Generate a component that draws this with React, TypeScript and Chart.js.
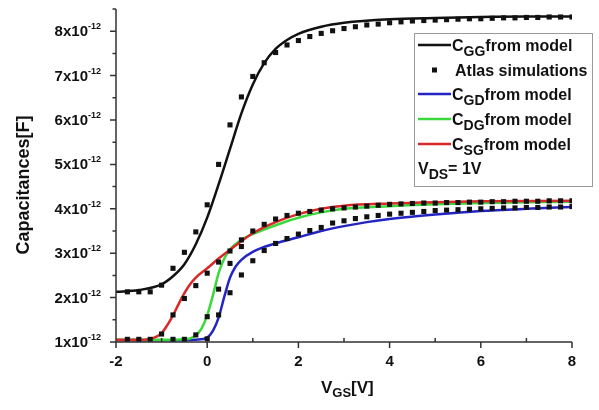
import React, { useEffect, useRef } from 'react';
import { Chart, registerables } from 'chart.js';

Chart.register(...registerables);

// Capacitance values in units of 1e-12 F, V_GS in volts
const cggModelX = [-2, -1.5, -1, -0.75, -0.5, -0.25, 0, 0.25, 0.5, 0.75, 1, 1.25, 1.5, 1.75, 2, 2.5, 3, 4, 5, 6, 7, 8];
const cggModelY = [2.13, 2.17, 2.3, 2.48, 2.75, 3.2, 3.8, 4.55, 5.35, 6.15, 6.8, 7.28, 7.6, 7.8, 7.94, 8.1, 8.19, 8.27, 8.3, 8.32, 8.33, 8.33];

const cgdModelX = [-2, -1, -0.5, -0.25, 0, 0.125, 0.25, 0.375, 0.5, 0.625, 0.75, 1, 1.5, 2, 2.5, 3, 3.5, 4, 5, 6, 7, 8];
const cgdModelY = [1.04, 1.04, 1.04, 1.05, 1.1, 1.25, 1.55, 2.02, 2.45, 2.7, 2.85, 3.03, 3.22, 3.36, 3.5, 3.61, 3.7, 3.77, 3.87, 3.95, 4.0, 4.04];

const cdgModelX = [-2, -1, -0.5, -0.375, -0.25, -0.125, 0, 0.125, 0.25, 0.375, 0.5, 0.75, 1, 1.5, 2, 2.5, 3, 4, 5, 6, 8];
const cdgModelY = [1.05, 1.05, 1.06, 1.08, 1.15, 1.3, 1.6, 2.05, 2.55, 2.88, 3.08, 3.3, 3.43, 3.63, 3.8, 3.92, 4.0, 4.06, 4.1, 4.13, 4.16];

const csgModelX = [-2, -1.5, -1.25, -1, -0.875, -0.75, -0.625, -0.5, -0.375, -0.25, 0, 0.25, 0.5, 0.75, 1, 1.5, 2, 2.5, 3, 4, 5, 6, 8];
const csgModelY = [1.05, 1.05, 1.07, 1.2, 1.38, 1.6, 1.86, 2.1, 2.3, 2.45, 2.66, 2.88, 3.08, 3.27, 3.45, 3.7, 3.88, 4.0, 4.07, 4.12, 4.15, 4.17, 4.18];

// Atlas simulation points
const simX = [-1.75, -1.5, -1.25, -1, -0.75, -0.5, -0.25, 0, 0.25, 0.5, 0.75, 1, 1.25, 1.5, 1.75, 2, 2.25, 2.5, 2.75, 3, 3.25, 3.5, 3.75, 4, 4.25, 4.5, 4.75, 5, 5.25, 5.5, 5.75, 6, 6.25, 6.5, 6.75, 7, 7.25, 7.5, 7.75, 8];
const cggSimY = [2.13, 2.13, 2.13, 2.28, 2.66, 3.02, 3.48, 4.09, 5.0, 5.89, 6.52, 6.98, 7.29, 7.52, 7.69, 7.79, 7.88, 7.95, 8.01, 8.06, 8.1, 8.14, 8.16, 8.19, 8.21, 8.23, 8.24, 8.25, 8.26, 8.27, 8.28, 8.28, 8.29, 8.3, 8.3, 8.31, 8.31, 8.32, 8.32, 8.32];
const csgSimY = [1.06, 1.06, 1.06, 1.18, 1.61, 1.98, 2.27, 2.55, 2.8, 3.05, 3.3, 3.5, 3.65, 3.77, 3.85, 3.9, 3.94, 3.97, 4.0, 4.02, 4.04, 4.06, 4.08, 4.1, 4.11, 4.12, 4.13, 4.13, 4.14, 4.14, 4.15, 4.15, 4.16, 4.16, 4.17, 4.17, 4.17, 4.18, 4.18, 4.18];
const cdgSimX = [-0.75, -0.5, -0.25, 0, 0.25, 0.5, 0.75];
const cdgSimY = [1.06, 1.06, 1.16, 1.57, 2.19, 2.77, 3.15];
const cgdSimX = [0, 0.25, 0.5, 0.75, 1, 1.25, 1.5, 1.75, 2, 2.25, 2.5, 2.75, 3, 3.25, 3.5, 3.75, 4, 4.25, 4.5, 4.75, 5, 5.25, 5.5, 5.75, 6, 6.25, 6.5, 6.75, 7, 7.25, 7.5, 7.75, 8];
const cgdSimY = [1.07, 1.61, 2.11, 2.51, 2.83, 3.06, 3.22, 3.33, 3.43, 3.51, 3.58, 3.68, 3.73, 3.78, 3.82, 3.85, 3.88, 3.9, 3.92, 3.94, 3.96, 3.97, 3.98, 3.99, 4.0, 4.01, 4.02, 4.02, 4.03, 4.03, 4.04, 4.04, 4.05];

// Axis ticks and labels
const xTicks = [-2, 0, 2, 4, 6, 8];
const xMinorTicks = [-1, 1, 3, 5, 7];
const yTicks = [1, 2, 3, 4, 5, 6, 7, 8];
const yMinorTicks = [1.5, 2.5, 3.5, 4.5, 5.5, 6.5, 7.5, 8.5];
const yTickExponent = '-12';
const yTitle = 'Capacitances[F]';
const xTitleMain = 'V';
const xTitleSub = 'GS';
const xTitleUnit = '[V]';

// Legend
const legendSubs = ['GG', 'GD', 'DG', 'SG'];
const legendSuffix = 'from model';
const legendSimLabel = 'Atlas simulations';
const legendNote = ['V', 'DS', '= 1V'];

const BLACK = '#111111';
const BLUE = '#2424c4';
const GREEN = '#3ad83a';
const RED = '#d82828';
const FONT = '"Liberation Sans", Arial, sans-serif';

const pts = (xs: number[], ys: number[]) => xs.map((x, i) => ({ x, y: ys[i] }));

type Part = { t: string; size: number; dy: number };
function drawParts(ctx: CanvasRenderingContext2D, x: number, y: number, parts: Part[]) {
  let cx = x;
  for (const p of parts) {
    ctx.font = `bold ${p.size}px ${FONT}`;
    ctx.fillText(p.t, cx, y + p.dy);
    cx += ctx.measureText(p.t).width;
  }
}

const axesPlugin = {
  id: 'customAxes',
  afterDraw(chart: any) {
    const ctx: CanvasRenderingContext2D = chart.ctx;
    const xs = chart.scales.x;
    const ys = chart.scales.y;
    const { left, right, top, bottom } = chart.chartArea;
    ctx.save();
    ctx.strokeStyle = '#333';
    ctx.fillStyle = '#111';
    ctx.lineWidth = 1.5;
    ctx.beginPath();
    ctx.moveTo(left, top);
    ctx.lineTo(left, bottom);
    ctx.lineTo(right, bottom);
    ctx.stroke();

    // y ticks
    ctx.beginPath();
    for (const v of yTicks) {
      const py = ys.getPixelForValue(v);
      ctx.moveTo(left - 6, py);
      ctx.lineTo(left, py);
    }
    for (const v of yMinorTicks) {
      const py = ys.getPixelForValue(v);
      ctx.moveTo(left - 3.5, py);
      ctx.lineTo(left, py);
    }
    // x ticks
    for (const v of xTicks) {
      const px = xs.getPixelForValue(v);
      ctx.moveTo(px, bottom);
      ctx.lineTo(px, bottom + 6);
    }
    for (const v of xMinorTicks) {
      const px = xs.getPixelForValue(v);
      ctx.moveTo(px, bottom);
      ctx.lineTo(px, bottom - 4);
    }
    ctx.stroke();

    // y tick labels
    ctx.textBaseline = 'alphabetic';
    ctx.textAlign = 'left';
    for (const v of yTicks) {
      const py = ys.getPixelForValue(v);
      const main = `${v}x10`;
      ctx.font = `bold 15px ${FONT}`;
      const mw = ctx.measureText(main).width;
      ctx.font = `bold 9px ${FONT}`;
      const sw = ctx.measureText(yTickExponent).width;
      const x0 = left - 15 - sw - mw;
      drawParts(ctx, x0, py + 5, [
        { t: main, size: 15, dy: 0 },
        { t: yTickExponent, size: 9, dy: -7 },
      ]);
    }
    // x tick labels
    ctx.textAlign = 'center';
    ctx.textBaseline = 'middle';
    ctx.font = `bold 15px ${FONT}`;
    for (const v of xTicks) {
      ctx.fillText(String(v), xs.getPixelForValue(v), bottom + 20);
    }

    // x title
    ctx.textAlign = 'left';
    ctx.textBaseline = 'alphabetic';
    drawParts(ctx, 321, 393, [
      { t: xTitleMain, size: 17, dy: 0 },
      { t: xTitleSub, size: 13, dy: 4 },
      { t: xTitleUnit, size: 17, dy: 0 },
    ]);

    // y title
    ctx.save();
    ctx.translate(24, 185);
    ctx.rotate(-Math.PI / 2);
    ctx.textAlign = 'center';
    ctx.textBaseline = 'middle';
    ctx.font = `bold 18px ${FONT}`;
    ctx.fillText(yTitle, 0, 0);
    ctx.restore();

    // legend box
    ctx.fillStyle = '#ffffff';
    ctx.fillRect(414, 33, 178, 153);
    ctx.strokeStyle = '#999';
    ctx.lineWidth = 1;
    ctx.strokeRect(414.5, 33.5, 178, 153);

    const rowY = [45, 70, 94, 119, 144];
    const colors = [BLACK, BLUE, GREEN, RED];
    const lineRows = [0, 2, 3, 4];
    ctx.fillStyle = '#111';
    ctx.textAlign = 'left';
    lineRows.forEach((r, i) => {
      const y = rowY[r];
      ctx.strokeStyle = colors[i];
      ctx.lineWidth = 2.5;
      ctx.beginPath();
      ctx.moveTo(418, y);
      ctx.lineTo(451, y);
      ctx.stroke();
      ctx.fillStyle = '#111';
      drawParts(ctx, 452, y + 6, [
        { t: 'C', size: 16, dy: 0 },
        { t: legendSubs[i], size: 14, dy: 5 },
        { t: legendSuffix, size: 16, dy: 0 },
      ]);
    });
    // sim marker
    ctx.fillStyle = '#111';
    ctx.fillRect(432, rowY[1] - 2.5, 5, 5);
    ctx.font = `bold 16px ${FONT}`;
    ctx.fillText(legendSimLabel, 455, rowY[1] + 6);
    drawParts(ctx, 418, 174, [
      { t: legendNote[0], size: 16, dy: 0 },
      { t: legendNote[1], size: 14, dy: 5 },
      { t: legendNote[2], size: 16, dy: 0 },
    ]);
    ctx.restore();
  },
};

export default function App() {
  const ref = useRef<HTMLCanvasElement>(null);
  useEffect(() => {
    document.body.style.margin = '0';
    const lineDs = (label: string, xs: number[], ys: number[], color: string, order: number) => ({
      label,
      data: pts(xs, ys),
      showLine: true,
      borderColor: color,
      backgroundColor: color,
      borderWidth: 2.5,
      pointRadius: 0,
      cubicInterpolationMode: 'monotone' as const,
      order,
    });
    const simDs = (label: string, xs: number[], ys: number[]) => ({
      label,
      data: pts(xs, ys),
      showLine: false,
      pointStyle: 'rect' as const,
      pointRadius: 3.6,
      borderWidth: 0,
      backgroundColor: '#111',
      borderColor: '#111',
      order: 0,
    });
    const chart = new Chart(ref.current as HTMLCanvasElement, {
      type: 'scatter',
      data: {
        datasets: [
          simDs('Atlas simulations', simX, cggSimY),
          simDs('Atlas CSG', simX, csgSimY),
          simDs('Atlas CDG', cdgSimX, cdgSimY),
          simDs('Atlas CGD', cgdSimX, cgdSimY),
          lineDs('CGG from model', cggModelX, cggModelY, BLACK, 1),
          lineDs('CSG from model', csgModelX, csgModelY, RED, 2),
          lineDs('CDG from model', cdgModelX, cdgModelY, GREEN, 3),
          lineDs('CGD from model', cgdModelX, cgdModelY, BLUE, 4),
        ] as any,
      },
      options: {
        animation: false,
        responsive: false,
        devicePixelRatio: 1,
        layout: { padding: { left: 116, right: 27, top: 9, bottom: 68 } },
        scales: {
          x: { type: 'linear', min: -2, max: 8, display: false },
          y: { type: 'linear', min: 1, max: 8.5, display: false },
        },
        plugins: { legend: { display: false }, tooltip: { enabled: false } },
      },
      plugins: [axesPlugin],
    });
    return () => chart.destroy();
  }, []);
  return <canvas ref={ref} width={599} height={410} style={{ display: 'block' }} />;
}
